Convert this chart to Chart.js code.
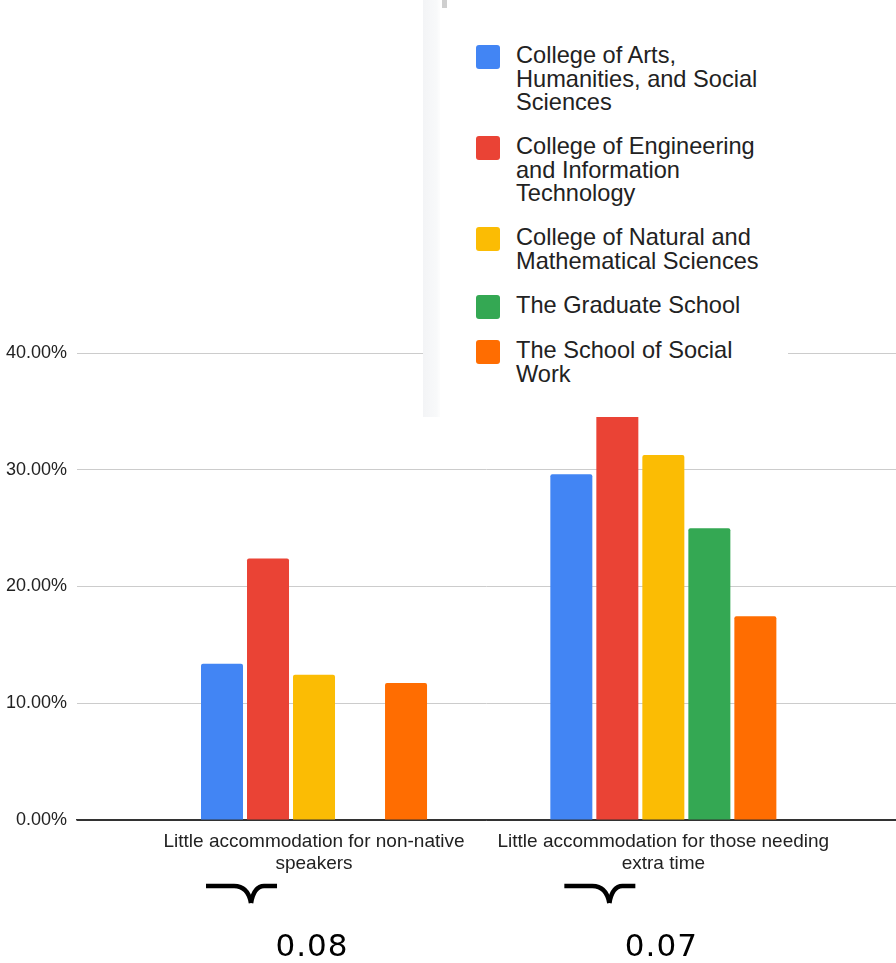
<!DOCTYPE html>
<html>
<head>
<meta charset="utf-8">
<script src="https://cdn.jsdelivr.net/npm/chart.js@4/dist/chart.umd.min.js"></script>
<style>
  html, body { margin: 0; padding: 0; background: #ffffff; }
  #wrap { position: relative; width: 896px; height: 963px; overflow: hidden; }
  #wrap canvas { position: absolute; left: 0; top: 0; }
  #legendPanel {
    position: absolute; left: 423px; top: 0; width: 365px; height: 417px;
    background: #ffffff;
  }
  #legendPanel .edge {
    position: absolute; left: 0; top: 0; width: 17px; height: 100%;
    background: linear-gradient(to right, #f3f4f6, #f8f9fa 80%, #fdfdfd);
  }
  #legendPanel .nub {
    position: absolute; left: 19px; top: 0; width: 5px; height: 8px; background: #cfcfcf;
  }
  #legendList { position: absolute; left: 53px; top: 44px; }
  .lg-item { display: flex; align-items: flex-start; margin-bottom: 20.5px; }
  .lg-swatch { width: 24px; height: 24px; border-radius: 3px; margin-top: 1px; flex: none; }
  .lg-text {
    margin-left: 16px; width: 252px;
    font: 23.6px "Liberation Sans", Arial, sans-serif; line-height: 23.5px; color: #222;
  }
</style>
</head>
<body>
<div id="wrap">
  <canvas id="chart" width="896" height="963"></canvas>
  <div id="legendPanel"><div class="edge"></div><div class="nub"></div><div id="legendList"></div></div>
</div>
<script>
// Category labels (one array of lines per category)
const categories = [
  ['Little accommodation for non-native', 'speakers'],
  ['Little accommodation for those needing', 'extra time']
];

// Series names and colours
const seriesNames = [
  'College of Arts, Humanities, and Social Sciences',
  'College of Engineering and Information Technology',
  'College of Natural and Mathematical Sciences',
  'The Graduate School',
  'The School of Social Work'
];
const seriesColors = ['#4285F4', '#EA4335', '#FBBC04', '#34A853', '#FF6D01'];

// Share of respondents per college (%), one value per category
const artsHumanities = [13.39, 29.61];
const engineeringIT  = [22.40, 36.00];
const naturalMath    = [12.45, 31.27];
const graduateSchool = [0.00, 25.00];
const socialWork     = [11.73, 17.45];

// Y axis ticks (%)
const yTicks = [0, 10, 20, 30, 40];

// Values written under each category group
const braceLabels = ['0.08', '0.07'];

const seriesValues = [artsHumanities, engineeringIT, naturalMath, graduateSchool, socialWork];

// HTML legend panel
const legendList = document.getElementById('legendList');
seriesNames.forEach((name, i) => {
  const item = document.createElement('div');
  item.className = 'lg-item';
  const sw = document.createElement('div');
  sw.className = 'lg-swatch';
  sw.style.background = seriesColors[i];
  const tx = document.createElement('div');
  tx.className = 'lg-text';
  tx.textContent = name;
  item.appendChild(sw);
  item.appendChild(tx);
  legendList.appendChild(item);
});

// Curly-brace marks and numbers below each category group
const braceTipShift = [-63, -54];
const bracePlugin = {
  id: 'braces',
  afterDraw(chart) {
    const { ctx } = chart;
    const x = chart.scales.x;
    ctx.save();
    braceLabels.forEach((label, i) => {
      const cx = x.getPixelForValue(i);
      const tip = cx + braceTipShift[i];
      const left = tip - 45, right = tip + 26, yBar = 886, yTip = 903;
      ctx.strokeStyle = '#000';
      ctx.lineWidth = 4.5;
      ctx.lineCap = 'butt';
      ctx.beginPath();
      ctx.moveTo(left, yBar);
      ctx.lineTo(tip - 17, yBar);
      ctx.quadraticCurveTo(tip - 3, yBar, tip, yTip);
      ctx.stroke();
      ctx.beginPath();
      ctx.moveTo(right, yBar);
      ctx.lineTo(tip + 13, yBar);
      ctx.quadraticCurveTo(tip + 3, yBar, tip, yTip);
      ctx.stroke();

      ctx.fillStyle = '#000';
      ctx.font = '31px "DejaVu Sans", sans-serif';
      if ('letterSpacing' in ctx) ctx.letterSpacing = '1px';
      ctx.textAlign = 'center';
      ctx.textBaseline = 'alphabetic';
      ctx.fillText(label, cx - 2, 956);
    });
    ctx.restore();
  }
};

const whiteBg = {
  id: 'whiteBg',
  beforeDraw(chart) {
    const { ctx, width, height } = chart;
    ctx.save();
    ctx.fillStyle = '#ffffff';
    ctx.fillRect(0, 0, width, height);
    ctx.restore();
  }
};

// Category positions on a numeric x axis: groups sit at 0 and 1,
// with room to the left and right of them.
const xMin = -0.6785, xMax = 1.666;

new Chart(document.getElementById('chart'), {
  type: 'bar',
  data: {
    datasets: seriesNames.map((name, s) => ({
      label: name,
      data: seriesValues[s].map((v, i) => ({ x: i, y: v })),
      backgroundColor: seriesColors[s],
      borderRadius: 2,
      borderSkipped: 'start',
      categoryPercentage: 0.6585,
      barPercentage: 0.913
    }))
  },
  options: {
    responsive: false,
    animation: false,
    layout: { padding: { top: 353, left: 0, right: 0, bottom: 0 } },
    plugins: { legend: { display: false }, tooltip: { enabled: false } },
    scales: {
      x: {
        type: 'linear',
        min: xMin,
        max: xMax,
        offset: false,
        grid: { display: false, drawTicks: false },
        border: { display: true, color: '#333333', width: 1.5 },
        afterBuildTicks: s => { s.ticks = categories.map((_, i) => ({ value: i })); },
        afterFit: s => { s.height = 143; },
        ticks: {
          autoSkip: false,
          maxRotation: 0,
          minRotation: 0,
          padding: 10,
          color: '#222222',
          font: { family: '"Liberation Sans", Arial, sans-serif', size: 19, lineHeight: 1.2 },
          callback: v => categories[v]
        }
      },
      y: {
        min: yTicks[0],
        max: yTicks[yTicks.length - 1],
        afterBuildTicks: s => { s.ticks = yTicks.map(v => ({ value: v })); },
        afterFit: s => { s.width = 77; },
        grid: {
          drawTicks: false,
          color: c => (c.tick && c.tick.value === 0 ? '#333333' : '#cccccc'),
          lineWidth: 1
        },
        border: { display: false },
        ticks: {
          padding: 10,
          color: '#222222',
          font: { family: '"Liberation Sans", Arial, sans-serif', size: 18 },
          callback: v => v.toFixed(2) + '%'
        }
      }
    }
  },
  plugins: [whiteBg, bracePlugin]
});
</script>
</body>
</html>
